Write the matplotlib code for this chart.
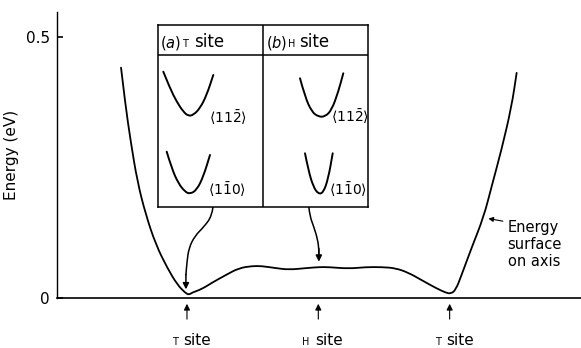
import numpy as np
import matplotlib.pyplot as plt
from matplotlib.path import Path
from matplotlib.patches import PathPatch

# energy along the axis, position in units of T->H distance (T=0, H=1, T=2)
pos = [-0.502, -0.469, -0.428, -0.377, -0.313, -0.237, -0.149, -0.073, -0.010, 0.015,
       0.038, 0.114, 0.190, 0.297, 0.395, 0.494, 0.570, 0.677, 0.776, 0.905,
       1.004, 1.079, 1.232, 1.361, 1.483, 1.589, 1.688, 1.787, 1.894, 1.970,
       2.008, 2.046, 2.091, 2.167, 2.259, 2.319, 2.395, 2.471, 2.510]
energy = [0.441, 0.370, 0.299, 0.222, 0.159, 0.102, 0.057, 0.025, 0.009, 0.006,
          0.010, 0.017, 0.029, 0.044, 0.057, 0.061, 0.061, 0.057, 0.054, 0.057,
          0.059, 0.059, 0.056, 0.059, 0.059, 0.057, 0.048, 0.034, 0.019, 0.010,
          0.008, 0.015, 0.044, 0.096, 0.155, 0.213, 0.284, 0.366, 0.431]

site_pos = [0, 1, 2]
site_names = ["T", "H", "T"]

# small curves in the inset (box units, width 210, height 182)
a_top_x = [5.3, 12, 18.7, 25.3, 30.3, 35.3, 42, 48.7, 55.3]
a_top_y = [135.3, 118.7, 105.3, 95.3, 91, 92, 98.7, 112, 132]
a_bot_x = [8.7, 13.7, 20.3, 27, 32, 38.7, 45.3, 52]
a_bot_y = [55.3, 38.7, 23.7, 15.3, 13, 17, 30.3, 52]
b_top_x = [142, 147, 153.7, 160.3, 167, 173.7, 180.3, 185.3]
b_top_y = [128.7, 110.3, 95.3, 90.3, 90.3, 97, 115.3, 133.7]
b_bot_x = [147, 150.3, 155.3, 160.3, 165.3, 170.3, 174.7]
b_bot_y = [53.7, 37, 20.3, 13, 14.3, 28.7, 53.7]
dir_112 = r"$\langle 11\bar{2}\rangle$"
dir_110 = r"$\langle 1\bar{1}0\rangle$"


def smooth_path(xs, ys):
    # quadratic bezier through the midpoints, read points act as controls
    pts = list(zip(xs, ys))
    verts = [pts[0]]
    codes = [Path.MOVETO]
    for i in range(1, len(pts) - 1):
        mid = ((pts[i][0] + pts[i + 1][0]) / 2, (pts[i][1] + pts[i + 1][1]) / 2)
        verts += [pts[i], mid]
        codes += [Path.CURVE3, Path.CURVE3]
    verts.append(pts[-1])
    codes.append(Path.LINETO)
    return Path(verts, codes)


def draw_curve(axis, xs, ys, lw):
    axis.add_patch(PathPatch(smooth_path(xs, ys), facecolor='none',
                             edgecolor='black', lw=lw, capstyle='round'))


plt.rcParams['font.family'] = ['DejaVu Sans']
plt.rcParams['mathtext.fontset'] = 'dejavusans'

fig = plt.figure(figsize=(5.81, 3.48), dpi=100)
ax = fig.add_axes([0.098, 0.144, 0.902, 0.822])
draw_curve(ax, pos, energy, 1.3)
ax.set_xlim(-0.99, 3.0)
ax.set_ylim(0, 0.548)
ax.spines['top'].set_visible(False)
ax.spines['right'].set_visible(False)
ax.spines['left'].set_linewidth(1.0)
ax.spines['bottom'].set_linewidth(1.2)
ax.set_xticks([])
ax.set_yticks([0, 0.5])
ax.set_yticklabels(["0", "0.5"])
ax.tick_params(axis='y', direction='in', length=4, width=1.2, pad=5, labelsize=11)
ax.set_ylabel("Energy (eV)", fontsize=11, labelpad=5)

# site arrows under the axis
for p, name in zip(site_pos, site_names):
    ax.annotate("", xy=(p, -0.006), xytext=(p, -0.046),
                arrowprops=dict(arrowstyle='-|>', color='black', lw=0.8,
                                mutation_scale=9),
                annotation_clip=False)
    ax.text(p - 0.07, -0.090, name, fontsize=7, ha='right', va='baseline')
    ax.text(p - 0.025, -0.090, "site", fontsize=11, ha='left', va='baseline')

# label for the curve
ax.annotate("", xy=(2.274, 0.153), xytext=(2.426, 0.146),
            arrowprops=dict(arrowstyle='-|>', color='black', lw=0.8,
                            mutation_scale=7))
ax.text(2.441, 0.102, "Energy\nsurface\non axis", fontsize=10.5,
        ha='left', va='center', linespacing=1.15)

# arrows from the inset down to the curve
draw_curve(ax, [0.198, 0.190, 0.129, 0.061, 0.015, 0.0, -0.008],
           [0.174, 0.157, 0.136, 0.119, 0.096, 0.069, 0.044], 1.1)
ax.annotate("", xy=(-0.008, 0.011), xytext=(-0.008, 0.05),
            arrowprops=dict(arrowstyle='-|>', color='black', lw=1.1,
                            mutation_scale=9))
draw_curve(ax, [0.928, 0.935, 0.966, 0.996, 1.004, 1.004],
           [0.174, 0.157, 0.136, 0.111, 0.092, 0.085], 1.1)
ax.annotate("", xy=(1.004, 0.064), xytext=(1.004, 0.10),
            arrowprops=dict(arrowstyle='-|>', color='black', lw=1.1,
                            mutation_scale=9))

# inset box
ins = fig.add_axes([158 / 581, (348 - 207) / 348, 210 / 581, 182 / 348])
ins.set_xlim(0, 210)
ins.set_ylim(0, 182)
ins.set_xticks([])
ins.set_yticks([])
for s in ins.spines.values():
    s.set_linewidth(1.1)
ins.axhline(152, color='black', lw=1.1)
ins.axvline(105, color='black', lw=1.1)
for xs, ys in [(a_top_x, a_top_y), (a_bot_x, a_bot_y),
               (b_top_x, b_top_y), (b_bot_x, b_bot_y)]:
    draw_curve(ins, xs, ys, 1.4)
ins.text(51, 89, dir_112, fontsize=10, va='center')
ins.text(50, 17, dir_110, fontsize=10, va='center')
ins.text(173, 90, dir_112, fontsize=10, va='center')
ins.text(171, 17, dir_110, fontsize=10, va='center')

ins.text(2, 160, r"$(\mathit{a})$", fontsize=10.5, va='baseline')
ins.text(24, 160, "T", fontsize=7, va='baseline')
ins.text(36, 160, "site", fontsize=12, va='baseline')
ins.text(108, 160, r"$(\mathit{b})$", fontsize=10.5, va='baseline')
ins.text(130, 160, "H", fontsize=7, va='baseline')
ins.text(141, 160, "site", fontsize=12, va='baseline')

fig.savefig("out.png", dpi=100)
